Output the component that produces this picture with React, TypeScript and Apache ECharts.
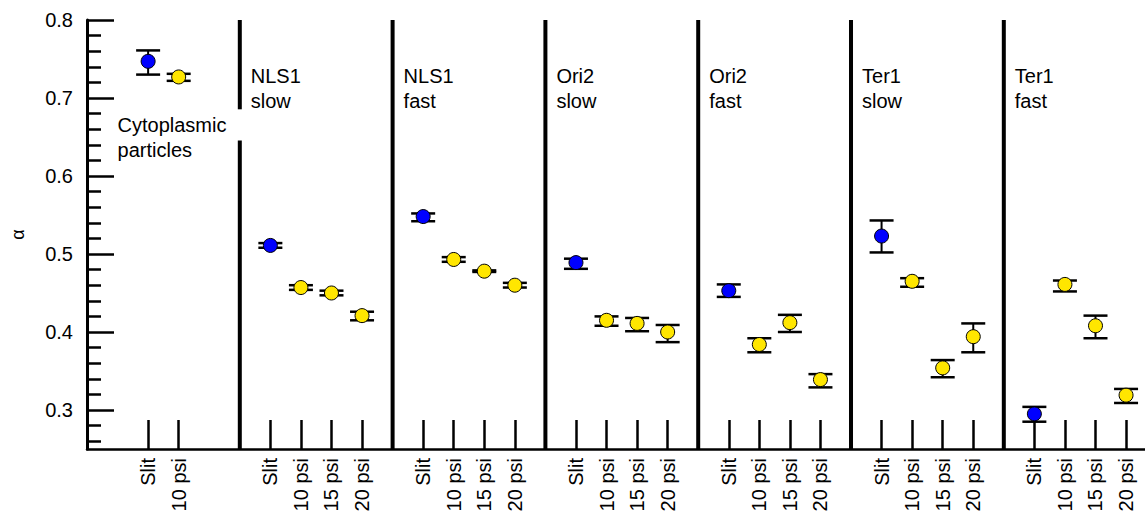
import React, { useEffect, useRef } from "react";
import * as echarts from "echarts";

// x positions of measured conditions (slots), and their labels
const tickPositions = [2, 3, 6, 7, 8, 9, 11, 12, 13, 14, 16, 17, 18, 19, 21, 22, 23, 24, 26, 27, 28, 29, 31, 32, 33, 34];
const tickLabels = [
  "Slit", "10 psi",
  "Slit", "10 psi", "15 psi", "20 psi",
  "Slit", "10 psi", "15 psi", "20 psi",
  "Slit", "10 psi", "15 psi", "20 psi",
  "Slit", "10 psi", "15 psi", "20 psi",
  "Slit", "10 psi", "15 psi", "20 psi",
  "Slit", "10 psi", "15 psi", "20 psi",
];
const groupLabels = ["Cytoplasmic\nparticles", "NLS1\nslow", "NLS1\nfast", "Ori2\nslow", "Ori2\nfast", "Ter1\nslow", "Ter1\nfast"];
const separatorX = [5, 10, 15, 20, 25, 30];
const cytoGap = [0.6855, 0.6456];

const alphaMean = [
  0.747, 0.727,
  0.511, 0.457, 0.450, 0.421,
  0.548, 0.493, 0.478, 0.460,
  0.489, 0.415, 0.411, 0.400,
  0.453, 0.384, 0.412, 0.339,
  0.523, 0.465, 0.354, 0.394,
  0.295, 0.461, 0.408, 0.319,
];
const alphaLow = [
  0.730, 0.722,
  0.508, 0.454, 0.447, 0.415,
  0.542, 0.490, 0.477, 0.457,
  0.481, 0.408, 0.401, 0.387,
  0.445, 0.374, 0.400, 0.329,
  0.502, 0.458, 0.342, 0.374,
  0.285, 0.452, 0.392, 0.309,
];
const alphaHigh = [
  0.761, 0.731,
  0.514, 0.460, 0.453, 0.426,
  0.552, 0.496, 0.479, 0.463,
  0.494, 0.420, 0.418, 0.409,
  0.461, 0.392, 0.422, 0.346,
  0.543, 0.469, 0.364, 0.411,
  0.304, 0.466, 0.421, 0.327,
];
const yMajorTicks = [0.3, 0.4, 0.5, 0.6, 0.7, 0.8];

const FONT = "'Liberation Sans', Arial, Helvetica, sans-serif";

export default function App() {
  const ref = useRef<HTMLDivElement>(null);
  useEffect(() => {
    document.body.style.margin = "0";
    if (!ref.current) return;
    const chart = echarts.init(ref.current, null, { renderer: "svg" });

    const minorTicks: number[] = [];
    for (let k = 26; k <= 78; k += 2) {
      if (k % 10 !== 0) minorTicks.push(k / 100);
    }

    const errData = tickPositions.map((x, i) => [x, alphaLow[i], alphaHigh[i]]);
    const ptData = tickPositions.map((x, i) => [x, alphaMean[i]]);
    const sepData: number[][] = [];
    separatorX.forEach((x, i) => {
      if (i === 0) {
        sepData.push([x, 0.8, cytoGap[0]]);
        sepData.push([x, cytoGap[1], 0.25]);
      } else {
        sepData.push([x, 0.8, 0.25]);
      }
    });

    const option: any = {
      animation: false,
      textStyle: { fontFamily: FONT },
      grid: { left: 87, right: 0, top: 20, bottom: 67, containLabel: false },
      xAxis: {
        type: "value",
        min: 0,
        max: 34.62,
        splitLine: { show: false },
        axisLine: { show: true, onZero: false, lineStyle: { color: "#000", width: 2.5 } },
        axisTick: {
          show: true,
          inside: true,
          length: 29,
          customValues: tickPositions,
          lineStyle: { color: "#000", width: 2.5 },
        },
        axisLabel: {
          show: true,
          customValues: tickPositions,
          rotate: 90,
          margin: 9,
          fontSize: 20,
          fontFamily: FONT,
          color: "#000",
          formatter: (v: number) => {
            const idx = tickPositions.indexOf(Math.round(v));
            return idx >= 0 ? tickLabels[idx] : "";
          },
        },
      },
      yAxis: [
        {
          type: "value",
          min: 0.25,
          max: 0.8,
          position: "left",
          name: "α",
          nameLocation: "middle",
          nameRotate: 90,
          nameGap: 60,
          nameTextStyle: { fontSize: 18, color: "#000", fontFamily: FONT },
          splitLine: { show: false },
          axisLine: { show: true, lineStyle: { color: "#000", width: 3 } },
          axisTick: {
            show: true,
            inside: true,
            length: 27,
            customValues: yMajorTicks,
            lineStyle: { color: "#000", width: 2.5 },
          },
          axisLabel: {
            show: true,
            customValues: yMajorTicks,
            margin: 14,
            fontSize: 20,
            color: "#000",
            fontFamily: FONT,
            formatter: (v: number) => v.toFixed(1),
          },
        },
        {
          type: "value",
          min: 0.25,
          max: 0.8,
          position: "left",
          splitLine: { show: false },
          axisLine: { show: false },
          axisLabel: { show: false },
          axisTick: {
            show: true,
            inside: true,
            length: 14,
            customValues: minorTicks,
            lineStyle: { color: "#000", width: 2.5 },
          },
        },
      ],
      series: [
        {
          type: "custom",
          name: "separators",
          data: sepData,
          encode: { x: 0, y: [1, 2] },
          silent: true,
          clip: false,
          renderItem: (_p: any, api: any) => {
            const x = api.value(0);
            const a = api.coord([x, api.value(1)]);
            const b = api.coord([x, api.value(2)]);
            return {
              type: "line",
              shape: { x1: a[0], y1: a[1], x2: b[0], y2: b[1] },
              style: { stroke: "#000", lineWidth: 4 },
            };
          },
        },
        {
          type: "custom",
          name: "error",
          data: errData,
          encode: { x: 0, y: [1, 2] },
          silent: true,
          renderItem: (_p: any, api: any) => {
            const x = api.value(0);
            const lo = api.coord([x, api.value(1)]);
            const hi = api.coord([x, api.value(2)]);
            const h = 12;
            return {
              type: "group",
              children: [
                { type: "line", shape: { x1: lo[0], y1: lo[1], x2: hi[0], y2: hi[1] }, style: { stroke: "#000", lineWidth: 2 } },
                { type: "line", shape: { x1: lo[0] - h, y1: lo[1], x2: lo[0] + h, y2: lo[1] }, style: { stroke: "#000", lineWidth: 2.5 } },
                { type: "line", shape: { x1: hi[0] - h, y1: hi[1], x2: hi[0] + h, y2: hi[1] }, style: { stroke: "#000", lineWidth: 2.5 } },
              ],
            };
          },
        },
        {
          type: "scatter",
          name: "alpha",
          data: ptData,
          symbol: "circle",
          symbolSize: 14,
          itemStyle: {
            color: (p: any) => (tickLabels[p.dataIndex] === "Slit" ? "#0000FF" : "#FFE600"),
            borderColor: "#000",
            borderWidth: 1,
            opacity: 1,
          },
        },
      ],
    };
    chart.setOption(option);

    // group labels anchored to data x positions
    const anchors = [1, ...separatorX];
    const graphics = groupLabels.map((t, i) => {
      const px = chart.convertToPixel({ xAxisIndex: 0 }, anchors[i]) as number;
      const top = i === 0 ? 112.5 : 63.5;
      return {
        type: "text",
        left: px + (i === 0 ? 0 : 11),
        top,
        silent: true,
        style: {
          text: t,
          fontSize: 20,
          lineHeight: 25,
          fontFamily: FONT,
          fill: "#000",
        },
      };
    });
    chart.setOption({ graphic: graphics });

    return () => chart.dispose();
  }, []);
  return <div ref={ref} style={{ width: 1145, height: 516 }} />;
}
